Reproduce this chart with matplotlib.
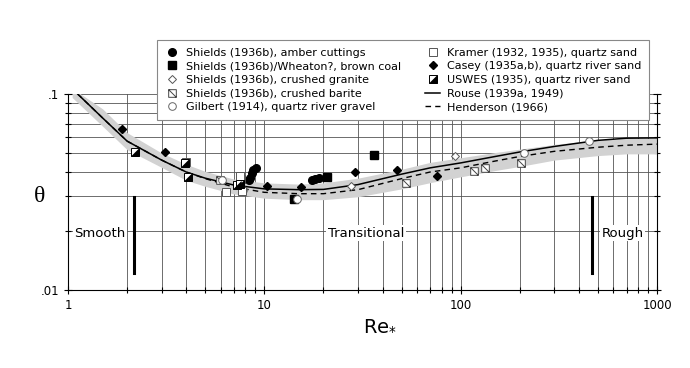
import matplotlib.pyplot as plt
from matplotlib.path import Path
from matplotlib.ticker import FixedLocator, NullFormatter

# Shields-diagram curves (Re*, theta)
curve_re = [1.12, 1.5, 2, 3, 4, 5, 7, 10, 15, 20, 30, 50, 70, 100, 150, 200, 300, 500, 700, 1000]
rouse = [0.1, 0.0755, 0.0575, 0.046, 0.040, 0.0372, 0.0343, 0.0328, 0.0325, 0.0326, 0.0345,
         0.039, 0.042, 0.0445, 0.048, 0.0506, 0.054, 0.058, 0.0595, 0.0597]
henderson = [0.1, 0.0755, 0.0575, 0.046, 0.040, 0.037, 0.0335, 0.0315, 0.031, 0.031, 0.0325,
             0.037, 0.040, 0.042, 0.0455, 0.048, 0.051, 0.0535, 0.0548, 0.0555]

band_re = [1.05, 1.5, 2, 3, 4, 5, 7, 10, 15, 20, 30, 50, 70, 100, 150, 200, 300, 500, 700, 1000]
band_high = [0.107, 0.084, 0.0635, 0.050, 0.0438, 0.0403, 0.0368, 0.0352, 0.0347, 0.0352, 0.0372,
             0.0413, 0.0448, 0.0473, 0.0503, 0.0523, 0.0553, 0.0583, 0.0593, 0.0593]
band_low = [0.096, 0.0685, 0.052, 0.0422, 0.0363, 0.0338, 0.0309, 0.0294, 0.0289, 0.0289, 0.0299,
            0.0328, 0.0353, 0.0378, 0.0407, 0.0427, 0.046, 0.0485, 0.0495, 0.0495]

# data points
amber_re = [8.4, 8.5, 8.65, 8.8, 9.1, 17.5, 18.2, 18.9]
amber_th = [0.0364, 0.0372, 0.0394, 0.0409, 0.0418, 0.0364, 0.0368, 0.0372]
coal_re = [14.1, 20.8, 36]
coal_th = [0.029, 0.0378, 0.0488]
granite_re = [27.5, 94]
granite_th = [0.034, 0.048]
barite_re = [5.95, 7.6, 52.5, 117, 133, 204]
barite_th = [0.0363, 0.037, 0.0352, 0.0407, 0.0421, 0.0446]
gilbert_re = [6.1, 7.8, 14.6, 210, 450]
gilbert_th = [0.0364, 0.0325, 0.029, 0.0498, 0.0578]
kramer_re = [4.0, 6.4, 7.55, 7.7]
kramer_th = [0.045, 0.0318, 0.0382, 0.032]
casey_re = [1.88, 3.12, 10.3, 15.4, 29, 47.6, 76]
casey_th = [0.0664, 0.0508, 0.0341, 0.0337, 0.0401, 0.041, 0.0381]
uswes_re = [2.2, 3.95, 4.1, 7.3, 7.5]
uswes_th = [0.0508, 0.0446, 0.0376, 0.0343, 0.0347]

plt.rcParams["font.family"] = ["DejaVu Sans"]

fig = plt.figure(figsize=(6.9, 3.68), dpi=100)
ax = fig.add_axes([68 / 690, 1 - 290 / 368, 589 / 690, 196 / 368])
ax.set_xscale("log")
ax.set_yscale("log")
ax.set_xlim(1, 1000)
ax.set_ylim(0.01, 0.1)

ax.fill_between(band_re, band_low, band_high, color="#d2d2d2", lw=0, zorder=1)
ax.plot(curve_re, rouse, color="k", lw=1.1, zorder=3)
ax.plot(curve_re, henderson, color="k", lw=1.0, ls=(0, (4, 3)), zorder=3)
h_rouse, h_hend = ax.lines[0], ax.lines[1]

barite_marker = Path([(-1, -1), (1, -1), (1, 1), (-1, 1), (-1, -1), (-1, 1), (1, -1)],
                     [Path.MOVETO, Path.LINETO, Path.LINETO, Path.LINETO, Path.CLOSEPOLY,
                      Path.MOVETO, Path.LINETO])
tri_marker = Path([(1, -1), (1, 1), (-1, -1), (1, -1)],
                  [Path.MOVETO, Path.LINETO, Path.LINETO, Path.CLOSEPOLY])

ms = 5.5
pt = dict(ls="none", zorder=4)
h_amber, = ax.plot(amber_re, amber_th, marker="o", ms=ms, mfc="k", mec="k", **pt)
h_coal, = ax.plot(coal_re, coal_th, marker="s", ms=ms, mfc="k", mec="k", **pt)
h_granite, = ax.plot(granite_re, granite_th, marker="D", ms=4.5, mfc="white", mec="#555", mew=0.7, **pt)
h_barite, = ax.plot(barite_re, barite_th, marker=barite_marker, ms=ms, mfc="white", mec="#444", mew=0.7, **pt)
h_gilbert, = ax.plot(gilbert_re, gilbert_th, marker="o", ms=ms, mfc="white", mec="#666", mew=0.7, **pt)
h_kramer, = ax.plot(kramer_re, kramer_th, marker="s", ms=ms, mfc="white", mec="#555", mew=0.7, **pt)
h_casey, = ax.plot(casey_re, casey_th, marker="D", ms=4.2, mfc="k", mec="k", **pt)
h_uswes_sq, = ax.plot(uswes_re, uswes_th, marker="s", ms=ms, mfc="white", mec="k", mew=0.7, **pt)
h_uswes_tri, = ax.plot(uswes_re, uswes_th, marker=tri_marker, ms=ms, mfc="k", mec="k", mew=0.5, **pt)

# regime bars and labels
bar_th = [0.0122, 0.0299]
ax.plot([2.17, 2.17], bar_th, color="k", lw=2.2, zorder=3)
ax.plot([468, 468], bar_th, color="k", lw=2.2, zorder=3)
box = dict(facecolor="white", edgecolor="none", pad=1)
ax.text(1.97, 0.0195, "Smooth", ha="right", va="center", fontsize=9.5, bbox=box, zorder=3)
ax.text(33, 0.0195, "Transitional", ha="center", va="center", fontsize=9.5, bbox=box, zorder=3)
ax.text(670, 0.0195, "Rough", ha="center", va="center", fontsize=9.5, bbox=box, zorder=3)

# grid and ticks
ax.xaxis.set_major_locator(FixedLocator([1, 10, 100, 1000]))
ax.xaxis.set_minor_locator(FixedLocator([m * d for d in (1, 10, 100) for m in range(2, 10)]))
ax.yaxis.set_major_locator(FixedLocator([0.01, 0.1]))
ax.yaxis.set_minor_locator(FixedLocator([m * 0.01 for m in range(2, 10)]))
ax.set_xticklabels(["1", "10", "100", "1000"])
ax.set_yticklabels([".01", ".1"])
ax.xaxis.set_minor_formatter(NullFormatter())
ax.yaxis.set_minor_formatter(NullFormatter())
ax.grid(True, which="both", color="#555555", lw=0.6, zorder=0)
ax.set_axisbelow(True)
ax.tick_params(which="both", direction="inout", right=True, top=False, labelsize=8.5,
               width=0.8, color="k")
ax.tick_params(which="major", length=6)
ax.tick_params(which="minor", length=4)
for s in ax.spines.values():
    s.set_linewidth(0.8)
ax.spines["top"].set_visible(False)

fig.text(40 / 690, 1 - 196 / 368, "θ", family="Liberation Serif", fontsize=17, ha="center", va="center")
fig.text(380 / 690, 1 - 325 / 368, r"Re$_{*}$", fontsize=14, ha="center", va="center",
         family="Liberation Sans Narrow")

handles = [h_amber, h_coal, h_granite, h_barite, h_gilbert,
           h_kramer, h_casey, (h_uswes_sq, h_uswes_tri), h_rouse, h_hend]
labels = ["Shields (1936b), amber cuttings", "Shields (1936b)/Wheaton?, brown coal",
          "Shields (1936b), crushed granite", "Shields (1936b), crushed barite",
          "Gilbert (1914), quartz river gravel", "Kramer (1932, 1935), quartz sand",
          "Casey (1935a,b), quartz river sand", "USWES (1935), quartz river sand",
          "Rouse (1939a, 1949)", "Henderson (1966)"]
leg = fig.legend(handles, labels, ncol=2, loc="upper left", bbox_to_anchor=(157 / 690, 1 - 40 / 368),
                 fontsize=8, frameon=True, fancybox=False, framealpha=1, edgecolor="#888888",
                 handlelength=1.3, handletextpad=0.6, labelspacing=0.32, columnspacing=2.2,
                 borderpad=0.7, borderaxespad=0)
leg.get_frame().set_linewidth(0.8)

fig.savefig("out.png", dpi=100)
